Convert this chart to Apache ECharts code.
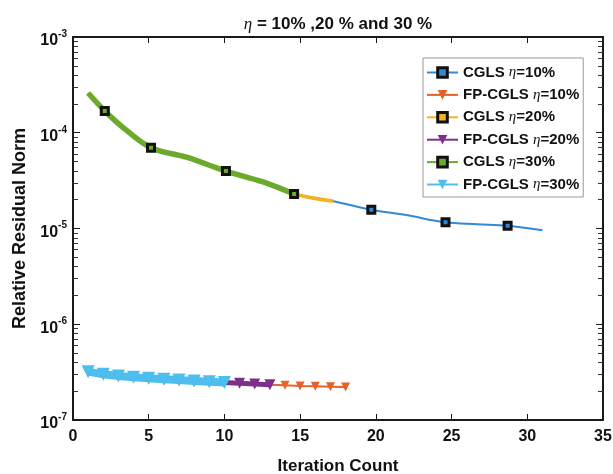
<!DOCTYPE html>
<html>
<head>
<meta charset="utf-8">
<script src="https://cdn.jsdelivr.net/npm/echarts@6/dist/echarts.min.js"></script>
<style>
  html, body { margin: 0; padding: 0; background: #fff; }
  #chart { width: 613px; height: 474px; }
</style>
</head>
<body>
<div id="chart"></div>
<script>
// CGLS residuals (the three noise levels lie on the same curve, just stop earlier)
var cglsX = [1, 2.1, 3.5, 5.15, 7.5, 10.1, 12.5, 14.6, 17.2, 19.7, 22, 24.6, 26.7, 28.7, 31];
var cglsY = [2.6e-4, 1.69e-4, 1.07e-4, 6.98e-5, 5.55e-5, 3.98e-5, 3.08e-5, 2.29e-5, 1.93e-5, 1.57e-5, 1.38e-5, 1.16e-5, 1.11e-5, 1.07e-5, 9.6e-6];
var cglsLen = { p10: 15, p20: 9, p30: 8 };
var cglsMarks10 = [19.7, 24.6, 28.7];
var cglsMarks20 = [];
var cglsMarks30 = [2.1, 5.15, 10.1, 14.6];

// FP-CGLS residuals
var fpX = [1, 2, 3, 4, 5, 6, 7, 8, 9, 10, 11, 12, 13, 14, 15, 16, 17, 18];
var fpY = [3.2e-7, 3.0e-7, 2.88e-7, 2.8e-7, 2.73e-7, 2.67e-7, 2.61e-7, 2.56e-7, 2.51e-7, 2.46e-7,
           2.42e-7, 2.38e-7, 2.34e-7, 2.3e-7, 2.27e-7, 2.25e-7, 2.23e-7, 2.21e-7];
var fpLen = { p10: 18, p20: 13, p30: 10 };

var xTicks = [0, 5, 10, 15, 20, 25, 30, 35];
var yDecades = [-7, -6, -5, -4, -3];

var names = ['CGLS η=10%', 'FP-CGLS η=10%', 'CGLS η=20%', 'FP-CGLS η=20%', 'CGLS η=30%', 'FP-CGLS η=30%'];
var colors = ['#2F8AD8', '#E5622A', '#F2B320', '#7E2F8E', '#6BAA2C', '#4DBEEE'];

// minor log ticks (2..9 in every decade), as exponents
var minorTicks = [];
for (var d = -7; d < -3; d++) {
  for (var m = 2; m <= 9; m++) minorTicks.push(d + Math.log(m) / Math.LN10);
}

function cglsData(n, marks) {
  return cglsX.slice(0, n).map(function (x, i) {
    return { value: [x, cglsY[i]], symbol: marks.indexOf(x) >= 0 ? 'rect' : 'none' };
  });
}
function fpData(n) {
  return fpX.slice(0, n).map(function (x, i) { return [x, fpY[i]]; });
}

function cglsSeries(idx, n, marks, width) {
  return {
    name: names[idx], type: 'line', data: cglsData(n, marks),
    symbol: 'rect', symbolSize: 7, smooth: 0.35,
    lineStyle: { color: colors[idx], width: width },
    itemStyle: { color: colors[idx], borderColor: '#111', borderWidth: 3 },
    emphasis: { disabled: true }, animation: false
  };
}
function fpSeries(idx, n, size, width) {
  return {
    name: names[idx], type: 'line', data: fpData(n),
    symbol: 'triangle', symbolRotate: 180, symbolSize: size, showAllSymbol: true,
    lineStyle: { color: colors[idx], width: width },
    itemStyle: { color: colors[idx] },
    emphasis: { disabled: true }, animation: false
  };
}

function legendItem(i) {
  if (names[i].indexOf('FP') === 0) return { name: names[i] };
  return { name: names[i], itemStyle: { borderColor: '#111', borderWidth: 3 } };
}

var font = 'Liberation Sans, Arial, sans-serif';
var axisLineStyle = { color: '#1a1a1a', width: 2 };

function minorAxis(pos) {
  return {
    type: 'value', min: -7, max: -3, position: pos, offset: 0,
    axisLine: { show: false },
    axisTick: { show: true, inside: true, length: 5, customValues: minorTicks, lineStyle: { color: '#333', width: 1 } },
    axisLabel: { show: false }, splitLine: { show: false }
  };
}

var chart = echarts.init(document.getElementById('chart'));
var option = {
  backgroundColor: '#fff',
  title: {
    text: '{e|η}{b| = 10% ,20 % and 30 %}',
    left: 333, top: 11, textAlign: 'center',
    textStyle: {
      rich: {
        e: { fontFamily: 'Liberation Serif, serif', fontStyle: 'italic', fontWeight: 'normal', fontSize: 17, color: '#111' },
        b: { fontFamily: font, fontWeight: 'bold', fontSize: 17, color: '#111' }
      }
    }
  },
  grid: { left: 73, top: 37, width: 530, height: 383, outerBoundsMode: 'none' },
  legend: {
    data: names.map(function (n, i) { return legendItem(i); }),
    orient: 'vertical', left: 423, top: 58,
    itemWidth: 31, itemHeight: 12, itemGap: 7.4,
    padding: [7, 4, 5, 3],
    backgroundColor: '#fff', borderColor: '#999', borderWidth: 1,
    formatter: function (name) {
      var p = name.split('η');
      return '{b|' + p[0] + '}{e|η}{b|' + p[1] + '}';
    },
    textStyle: {
      rich: {
        b: { fontFamily: font, fontWeight: 'bold', fontSize: 15, color: '#111', lineHeight: 16 },
        e: { fontFamily: 'Liberation Serif, serif', fontStyle: 'italic', fontSize: 15, color: '#111', lineHeight: 16 }
      }
    }
  },
  xAxis: [{
    type: 'value', min: 0, max: 35, interval: 5, position: 'bottom',
    name: 'Iteration Count', nameLocation: 'middle', nameGap: 38,
    nameTextStyle: { fontFamily: font, fontWeight: 'bold', fontSize: 17, color: '#111' },
    axisLine: { lineStyle: axisLineStyle },
    axisTick: { inside: true, length: 6, lineStyle: { color: '#1a1a1a' } },
    axisLabel: { fontFamily: font, fontWeight: 'bold', fontSize: 16, color: '#111', margin: 9,
      formatter: function (v) { return xTicks.indexOf(v) >= 0 ? String(v) : ''; } },
    splitLine: { show: false }
  }, {
    type: 'value', min: 0, max: 35, interval: 5, position: 'top',
    axisLine: { lineStyle: axisLineStyle },
    axisTick: { inside: true, length: 6, lineStyle: { color: '#1a1a1a' } },
    axisLabel: { show: false }, splitLine: { show: false }
  }],
  yAxis: [{
    type: 'log', logBase: 10, min: 1e-7, max: 1e-3, position: 'left',
    name: 'Relative Residual Norm', nameLocation: 'middle', nameGap: 36,
    nameTextStyle: { fontFamily: font, fontWeight: 'bold', fontSize: 18, color: '#111' },
    axisLine: { lineStyle: axisLineStyle },
    axisTick: { inside: true, length: 7, lineStyle: { color: '#1a1a1a' } },
    axisLabel: {
      margin: 6,
      formatter: function (v) {
        var e = Math.round(Math.log(v) / Math.LN10);
        return yDecades.indexOf(e) >= 0 ? '{b|10}{s|' + e + '}' : '';
      },
      rich: {
        b: { fontFamily: font, fontWeight: 'bold', fontSize: 16, color: '#111', padding: [8, 0, 0, 0] },
        s: { fontFamily: font, fontWeight: 'bold', fontSize: 10, color: '#111', padding: [0, 0, 6, 0] }
      }
    },
    splitLine: { show: false }
  },
  minorAxis('left'),
  {
    type: 'log', logBase: 10, min: 1e-7, max: 1e-3, position: 'right',
    axisLine: { lineStyle: axisLineStyle },
    axisTick: { inside: true, length: 7, lineStyle: { color: '#1a1a1a' } },
    axisLabel: { show: false }, splitLine: { show: false }
  },
  minorAxis('right')],
  series: [
    cglsSeries(0, cglsLen.p10, cglsMarks10, 2),
    fpSeries(1, fpLen.p10, 9, 2),
    cglsSeries(2, cglsLen.p20, cglsMarks20, 3.5),
    fpSeries(3, fpLen.p20, 11, 5),
    cglsSeries(4, cglsLen.p30, cglsMarks30, 5.5),
    fpSeries(5, fpLen.p30, 13, 8)
  ]
};
chart.setOption(option);
</script>
</body>
</html>
